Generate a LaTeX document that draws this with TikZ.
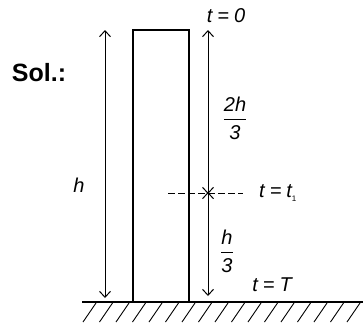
\documentclass[tikz,border=0pt]{standalone}
\usepackage{amsmath}
\usepackage{fontspec}
\setmainfont{Liberation Sans}
\usetikzlibrary{arrows.meta}
\newcommand{\eqsp}{\hspace{5pt}=\hspace{5pt}}
\begin{document}
\begin{tikzpicture}[x=1pt,y=-1pt,
  dim/.style={line width=1pt,{Straight Barb[length=6pt,width=11pt,line width=1pt]}-{Straight Barb[length=6pt,width=11pt,line width=1pt]}},
  lbl/.style={inner sep=0pt,font=\fontsize{20}{24}\selectfont\itshape},
  wall/.style={line width=1.1pt}]
\useasboundingbox (0,0) rectangle (363,322);
% tower
\draw[wall] (133,302) |- (189,30) -- (189,302);
% ground
\coordinate (g0) at (82,302);
\coordinate (g1) at (363,302);
\draw[wall] (g0) -- (g1);
\begin{scope}
\clip (75,303) rectangle (363,322);
\foreach \x in {83,99.5,...,380}
  \draw[line width=0.9pt] (\x,322) -- ++(13,-19);
\end{scope}
% coordinates
\coordinate (hT) at (105,30);
\coordinate (hB) at (105,298);
\coordinate (aT) at (208,30);
\coordinate (aM) at (208,193);
\coordinate (aB) at (208,296);
\coordinate (dL) at (168,193);
\coordinate (dR) at (243,193);
\draw[dim] (hT) -- (hB);
\draw[dim] (aT) -- ([yshift=-1pt]aM);
\draw[dim] ([yshift=1pt]aM) -- (aB);
\draw[line width=1pt,dash pattern=on 6.5pt off 3.5pt] (dL) -- (dR);
% labels
\node[inner sep=0pt,font=\fontsize{25}{28}\selectfont\bfseries] (sol) at (39,73) {Sol.:};
\node[lbl] (h) at (79,185) {h};
\node[lbl] (t0) at (226,16) {t\eqsp 0};
\node[lbl] (f1) at (235,118) {$\dfrac{\textit{2h}}{\textit{3}}$};
\node[lbl] (f2) at (227,251) {$\dfrac{\textit{h}}{\textit{3}}$};
\node[lbl,anchor=west] (t1) at (259,193) {t\eqsp t\textsubscript{\fontsize{8}{9}\selectfont\upshape 1}};
\node[lbl] (tT) at (272,285) {t\eqsp T};
\end{tikzpicture}
\end{document}
